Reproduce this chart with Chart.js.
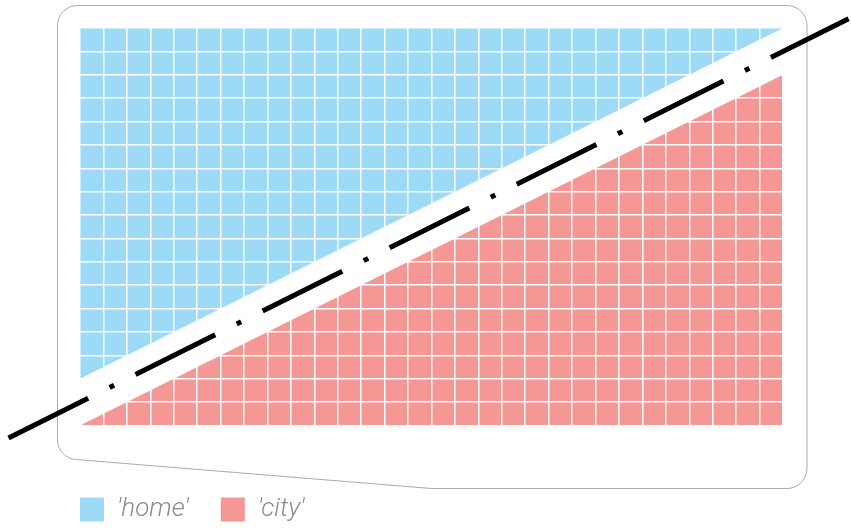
<!DOCTYPE html>
<html>
<head>
<meta charset="utf-8">
<title>home / city</title>
<script src="https://cdn.jsdelivr.net/npm/chart.js@4.4.1/dist/chart.umd.min.js"></script>
<style>
  html, body { margin: 0; padding: 0; background: #fff; }
  #wrap { width: 851px; height: 529px; position: relative; }
</style>
</head>
<body>
<div id="wrap"><canvas id="chart"></canvas></div>
<script>
// edges of the two areas
const seriesNames = ["'home'", "'city'"];
const homeEdge = [{x: 0, y: 2}, {x: 30, y: 17}];
const cityEdge = [{x: 0, y: 0}, {x: 30, y: 15}];
// dash-dot divider, runs past both ends of the grid
const divider = [{x: -3.05, y: -0.53}, {x: 32.8, y: 17.4}];
const xRange = [0, 30];
const yRange = [0, 17];

const homeColor = '#9ddaf6';
const cityColor = '#f59795';
const legendGap = 32;

// thin rounded outline, bottom-left edge slants up
const framePlugin = {
    id: 'frame',
    beforeDraw(chart) {
        const {ctx, chartArea: a} = chart;
        const l = a.left - 22.5, t = a.top - 22.5, r = a.right + 24, b = a.bottom + 63;
        const mid = (a.left + a.right) / 2;
        const slantY = b - 30.5;
        ctx.save();
        ctx.beginPath();
        ctx.moveTo(mid, t);
        ctx.arcTo(r, t, r, b, 20);
        ctx.arcTo(r, b, mid, b, 20);
        ctx.lineTo(mid, b);
        ctx.arcTo(l, slantY, l, t, 20);
        ctx.arcTo(l, t, mid, t, 20);
        ctx.closePath();
        ctx.strokeStyle = '#aaaaaa';
        ctx.lineWidth = 1;
        ctx.stroke();
        ctx.restore();
    }
};

// the divider goes on top of the white grid, so draw it last
const dividerPlugin = {
    id: 'divider',
    beforeDatasetDraw(chart, args) {
        if (args.index === 2) return false;
    },
    afterDraw(chart) {
        const meta = chart.getDatasetMeta(2);
        chart.ctx.save();
        meta.controller.draw();
        chart.ctx.restore();
    }
};

const gridScale = (range, axis) => ({
    type: 'linear',
    min: range[0],
    max: range[1],
    ticks: { display: false, stepSize: 1, maxTicksLimit: 100 },
    grid: { color: '#ffffff', lineWidth: 1.5, drawTicks: false, z: 1 },
    border: { display: false },
    afterFit: scale => {
        if (axis === 'x') scale.height = 39;
        else scale.width = legendGap;
    }
});

new Chart(document.getElementById('chart'), {
    type: 'line',
    data: {
        datasets: [{
            label: seriesNames[0],
            data: homeEdge,
            backgroundColor: homeColor,
            borderColor: 'transparent',
            borderWidth: 0,
            pointRadius: 0,
            fill: 'end'
        }, {
            label: seriesNames[1],
            data: cityEdge,
            backgroundColor: cityColor,
            borderColor: 'transparent',
            borderWidth: 0,
            pointRadius: 0,
            fill: 'start'
        }, {
            label: 'divider',
            data: divider,
            borderColor: '#000000',
            borderWidth: 5,
            borderDash: [89, 24, 5, 24],
            pointRadius: 0,
            fill: false,
            clip: false
        }]
    },
    options: {
        responsive: true,
        maintainAspectRatio: false,
        animation: false,
        events: [],
        layout: {
            padding: { left: 80 - legendGap, right: 68, top: 28, bottom: -3.5 }
        },
        scales: {
            x: gridScale(xRange, 'x'),
            y: gridScale(yRange, 'y')
        },
        plugins: {
            tooltip: { enabled: false },
            legend: {
                position: 'bottom',
                align: 'start',
                labels: {
                    boxWidth: 24,
                    boxHeight: 24,
                    padding: legendGap,
                    color: '#8c8c8c',
                    font: { family: 'Roboto', size: 26, style: 'italic', weight: '300' },
                    filter: item => item.datasetIndex < 2
                }
            }
        }
    },
    plugins: [framePlugin, dividerPlugin]
});
</script>
</body>
</html>
